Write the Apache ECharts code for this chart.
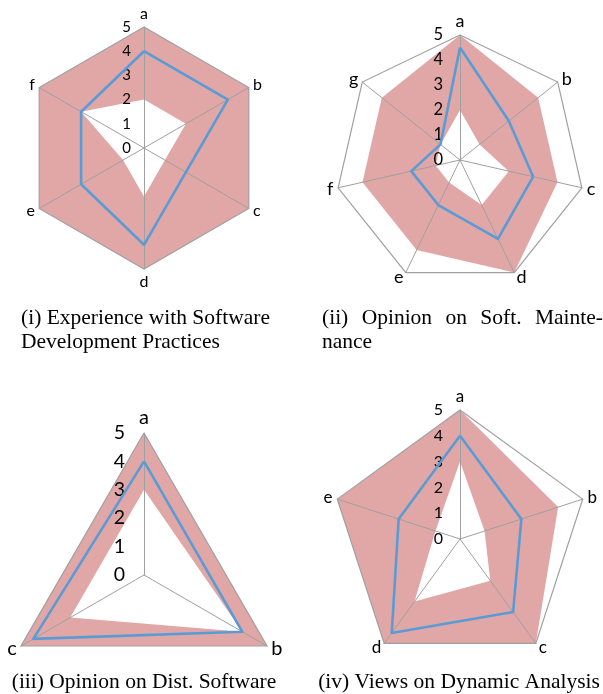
<!DOCTYPE html>
<html>
<head>
<meta charset="utf-8">
<script src="https://cdn.jsdelivr.net/npm/echarts@6/dist/echarts.min.js"></script>
<style>
html,body{margin:0;padding:0;background:#fff;}
#c{width:603px;height:694px;}
</style>
</head>
<body>
<div id="c"></div>
<script>
// ---- data ----
const tickValues = [0, 1, 2, 3, 4, 5];

const axes1 = ['a', 'b', 'c', 'd', 'e', 'f'];
const max1 = [5, 5, 5, 5, 5, 5];
const min1 = [2, 2, 1, 2, 1, 3];
const median1 = [4, 4, 2, 4, 3, 3];

const axes2 = ['a', 'b', 'c', 'd', 'e', 'f', 'g'];
const max2 = [5, 4, 4, 5, 4, 4, 4];
const min2 = [2, 1, 2, 2, 1, 1, 1];
const median2 = [4.5, 2.5, 3, 3.5, 2, 2, 1];

const axes3 = ['a', 'b', 'c'];
const max3 = [5, 5, 5];
const min3 = [3, 4, 3];
const median3 = [4, 4, 4.5];

const axes4 = ['a', 'b', 'c', 'd', 'e'];
const max4 = [5, 4, 5, 5, 5];
const min4 = [3, 1, 2, 3, 1];
const median4 = [4, 2.5, 3.5, 4.5, 2.5];

const caption1 = ['(i) Experience with Software', 'Development Practices'];
const caption2 = ['(ii) Opinion on Soft. Mainte-', 'nance'];
const caption3 = '(iii) Opinion on Dist. Software';
const caption4 = '(iv) Views on Dynamic Analysis';

// ---- styles ----
const PINK = '#E0A7A6';
const BLUE = '#5B9BD5';
const GREY = '#A0A0A0';
const SANS = 'Lato';
const SERIF = 'Liberation Serif';

// ECharts places indicators counter-clockwise; the reference goes clockwise.
function cw(arr) { return [arr[0]].concat(arr.slice(1).reverse()); }

function makeRadar(center, radius, names, nameFs, tickFs, margin, gap) {
  const lo = tickValues[0], hi = tickValues[tickValues.length - 1];
  const ringColors = tickValues.map((t, i) => i === tickValues.length - 1 ? GREY : 'rgba(0,0,0,0)');
  return {
    center: center, radius: radius, startAngle: 90, shape: 'polygon',
    splitNumber: tickValues.length - 1,
    indicator: cw(names).map((n, i) => {
      const o = { name: n, min: lo, max: hi };
      if (i === 0) o.axisLabel = { show: true };
      return o;
    }),
    axisName: { color: '#000', fontSize: nameFs, fontFamily: SANS },
    nameGap: gap,
    axisLine: { show: true, lineStyle: { color: GREY, width: 1 } },
    splitLine: { show: true, lineStyle: { color: ringColors, width: 1.2 } },
    splitArea: { show: false },
    axisTick: { show: false },
    axisLabel: { show: false, color: '#000', fontSize: tickFs, fontFamily: SANS, margin: margin },
    z: 3
  };
}

function makeSeries(k, mx, mn, med) {
  return [
    { type: 'radar', radarIndex: k, z: 1, symbol: 'none', silent: true,
      lineStyle: { opacity: 0 }, areaStyle: { color: PINK, opacity: 1 },
      data: [{ value: cw(mx) }] },
    { type: 'radar', radarIndex: k, z: 2, symbol: 'none', silent: true,
      lineStyle: { opacity: 0 }, areaStyle: { color: '#ffffff', opacity: 1 },
      data: [{ value: cw(mn) }] },
    { type: 'radar', radarIndex: k, z: 5, symbol: 'none', silent: true,
      lineStyle: { color: BLUE, width: 2.6 },
      data: [{ value: cw(med) }] }
  ];
}

// caption helpers
const CAP_FONT = '21.5px "' + SERIF + '"';
const mctx = document.createElement('canvas').getContext('2d');
mctx.font = CAP_FONT;
function textEl(t, x, y, align) {
  return { type: 'text', x: x, y: y, z: 10, silent: true,
    style: { text: t, font: CAP_FONT, fill: '#000', textAlign: align || 'left', textVerticalAlign: 'middle' } };
}
function justified(line, left, right, y) {
  const words = line.split(' ');
  const w = words.map(s => mctx.measureText(s).width);
  const total = w.reduce((a, b) => a + b, 0);
  const gap = (right - left - total) / (words.length - 1);
  const out = [];
  let x = left;
  words.forEach((s, i) => { out.push(textEl(s, x, y, 'left')); x += w[i] + gap; });
  return out;
}

const graphics = []
  .concat([textEl(caption1[0], 21, 318), textEl(caption1[1], 21, 342)])
  .concat(justified(caption2[0], 322, 603, 318))
  .concat([textEl(caption2[1], 322, 342)])
  .concat([textEl(caption3, 144, 682, 'center'), textEl(caption4, 459, 682, 'center')]);

const option = {
  animation: false,
  backgroundColor: '#fff',
  radar: [
    makeRadar([144, 148], 121, axes1, 16, 15, 13, 5),
    makeRadar([460, 160], 125, axes2, 18, 16.5, 17, 5),
    makeRadar([144, 575], 142, axes3, 20, 19.5, 19, 5),
    makeRadar([460, 539], 129, axes4, 17, 16, 17, 5)
  ],
  series: []
    .concat(makeSeries(0, max1, min1, median1))
    .concat(makeSeries(1, max2, min2, median2))
    .concat(makeSeries(2, max3, min3, median3))
    .concat(makeSeries(3, max4, min4, median4)),
  graphic: graphics
};

const chart = echarts.init(document.getElementById('c'), null, { renderer: 'canvas' });
chart.setOption(option);
</script>
</body>
</html>
